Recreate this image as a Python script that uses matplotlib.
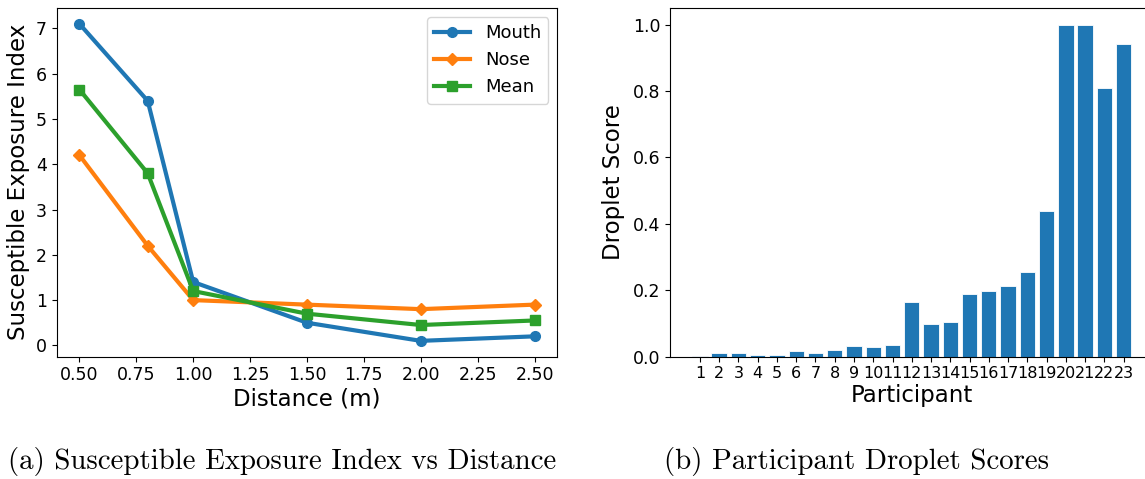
import numpy as np
import matplotlib
matplotlib.use("Agg")
import matplotlib.pyplot as plt

# left panel: exposure index vs distance
distance = [0.5, 0.8, 1.0, 1.5, 2.0, 2.5]
mouth = [7.1, 5.4, 1.4, 0.5, 0.1, 0.2]
nose = [4.2, 2.2, 1.0, 0.9, 0.8, 0.9]
mean = [5.65, 3.8, 1.2, 0.7, 0.45, 0.55]

# right panel: droplet score per participant
participants = list(range(1, 24))
scores = [0.002, 0.011, 0.010, 0.004, 0.006, 0.016, 0.010, 0.021, 0.031,
          0.030, 0.036, 0.164, 0.098, 0.103, 0.188, 0.197, 0.213, 0.255,
          0.438, 1.0, 1.0, 0.808, 0.941]

captions = ["(a) Susceptible Exposure Index vs Distance",
            "(b) Participant Droplet Scores"]

fig = plt.figure(figsize=(11.45, 4.79), dpi=100)

ax1 = fig.add_axes([0.0495, 0.2553, 0.4372, 0.728])
ax1.plot(distance, mouth, '-o', color='#1f77b4', lw=3, ms=7, label='Mouth')
ax1.plot(distance, nose, '-D', color='#ff7f0e', lw=3, ms=6, label='Nose')
ax1.plot(distance, mean, '-s', color='#2ca02c', lw=3, ms=6.5, label='Mean')
ax1.set_xticks(np.arange(0.5, 2.51, 0.25))
ax1.set_xlabel('Distance (m)', fontsize=16.5, labelpad=2)
ax1.set_ylabel('Susceptible Exposure Index', fontsize=16.5, labelpad=4)
ax1.tick_params(labelsize=12.5)
ax1.legend(loc='upper right', fontsize=13)

ax2 = fig.add_axes([0.5854, 0.2557, 0.4218, 0.7276])
ax2.bar(participants, scores, width=0.8, color='#1f77b4',
        edgecolor='white', linewidth=0.6)
ax2.set_xticks(participants)
ax2.set_xticklabels([str(p) for p in participants])
ax2.set_xlim(-0.54, 24.54)
ax2.tick_params(axis='x', labelsize=11.5)
ax2.tick_params(axis='y', labelsize=12.5)
ax2.set_xlabel('Participant', fontsize=16.5, labelpad=2)
ax2.set_ylabel('Droplet Score', fontsize=16.5, labelpad=6)

fig.text(282 / 1145, 1 - 462 / 479, captions[0], family='cmr10',
         fontsize=20.8, ha='center', va='center')
fig.text(856 / 1145, 1 - 462 / 479, captions[1], family='cmr10',
         fontsize=20.8, ha='center', va='center')

fig.savefig('out.png', dpi=100)
